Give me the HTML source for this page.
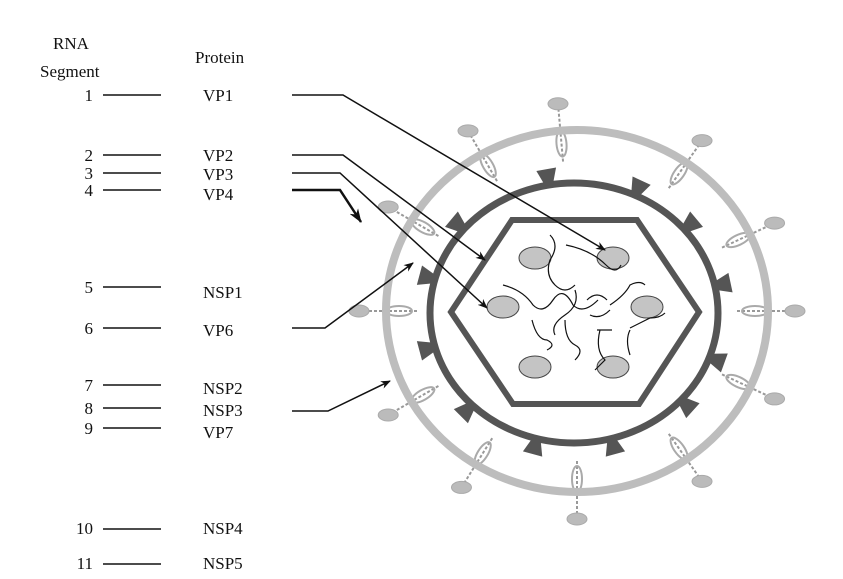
<!DOCTYPE html>
<html><head><style>
body{margin:0;background:#fff;}
svg{display:block;font-family:"Liberation Serif",serif;}
</style></head><body>
<svg id="s" width="843" height="579" viewBox="0 0 843 579" xmlns="http://www.w3.org/2000/svg">
<defs>
<marker id="a" markerWidth="10" markerHeight="8" refX="9" refY="4" orient="auto" markerUnits="userSpaceOnUse"><path d="M0,0 L10,4 L0,8 L3,4Z" fill="#111"/></marker>
<marker id="b" markerWidth="14" markerHeight="10" refX="13" refY="5" orient="auto" markerUnits="userSpaceOnUse"><path d="M0,0 L14,5 L0,10 L4,5Z" fill="#111"/></marker>
</defs>
<g font-size="17" fill="#111">
<text x="53" y="49">RNA</text>
<text x="40" y="77">Segment</text>
<text x="195" y="63">Protein</text>
<g text-anchor="end">
<text x="93" y="101">1</text><text x="93" y="161">2</text><text x="93" y="179">3</text><text x="93" y="196">4</text>
<text x="93" y="293">5</text><text x="93" y="334">6</text><text x="93" y="391">7</text><text x="93" y="414">8</text>
<text x="93" y="434">9</text><text x="93" y="534">10</text><text x="93" y="569">11</text>
</g>
<text x="203" y="101">VP1</text><text x="203" y="161">VP2</text><text x="203" y="180">VP3</text><text x="203" y="200">VP4</text>
<text x="203" y="298">NSP1</text><text x="203" y="336">VP6</text><text x="203" y="394">NSP2</text><text x="203" y="416">NSP3</text>
<text x="203" y="438">VP7</text><text x="203" y="534">NSP4</text><text x="203" y="569">NSP5</text>
</g>
<g stroke="#111" stroke-width="1.5">
<line x1="103" y1="95" x2="161" y2="95"/><line x1="103" y1="155" x2="161" y2="155"/><line x1="103" y1="173" x2="161" y2="173"/>
<line x1="103" y1="190" x2="161" y2="190"/><line x1="103" y1="287" x2="161" y2="287"/><line x1="103" y1="328" x2="161" y2="328"/>
<line x1="103" y1="385" x2="161" y2="385"/><line x1="103" y1="408" x2="161" y2="408"/><line x1="103" y1="428" x2="161" y2="428"/>
<line x1="103" y1="529" x2="161" y2="529"/><line x1="103" y1="564" x2="161" y2="564"/>
</g>
<g id="spk"></g>
<ellipse cx="577" cy="311" rx="191" ry="181" fill="none" stroke="#bdbdbd" stroke-width="8"/>
<ellipse cx="574" cy="313" rx="144" ry="130" fill="none" stroke="#555" stroke-width="7"/>
<g id="knb" fill="#555"></g>
<polygon points="512,220 637,220 699,312 639,404 513,404 451,312" fill="none" stroke="#555" stroke-width="6"/>
<g fill="#c4c4c4" stroke="#444" stroke-width="1">
<ellipse cx="535" cy="258" rx="16" ry="11"/><ellipse cx="613" cy="258" rx="16" ry="11"/>
<ellipse cx="503" cy="307" rx="16" ry="11"/><ellipse cx="647" cy="307" rx="16" ry="11"/>
<ellipse cx="535" cy="367" rx="16" ry="11"/><ellipse cx="613" cy="367" rx="16" ry="11"/>
</g>
<g fill="none" stroke="#111" stroke-width="1.2">
<path d="M550,235 q10,10 0,25 q-5,15 5,25 q10,10 20,0"/>
<path d="M566,245 q25,5 40,20 q10,10 15,0"/>
<path d="M503,285 q20,5 30,20 q10,10 20,-5 q10,-15 20,5 q10,10 25,-5"/>
<path d="M575,290 q5,15 -10,25 q-15,10 -10,20"/>
<path d="M610,305 q15,-10 20,-20 q10,-5 15,0"/>
<path d="M532,320 q5,20 15,20 q10,5 0,10"/>
<path d="M565,320 q0,20 10,25 q10,5 0,15"/>
<path d="M597,330 l15,0 M600,330 q-5,20 5,30 l-10,10"/>
<path d="M630,328 l20,-10 q10,0 15,-5 M630,330 q-5,10 0,25"/>
<path d="M587,300 q10,-10 20,0 M590,315 q10,5 20,-5"/>
</g>
<g fill="none" stroke="#111" stroke-width="1.5">
<path d="M292,95 L343,95 L605,250" marker-end="url(#a)"/>
<path d="M292,155 L343,155 L485,260" marker-end="url(#a)"/>
<path d="M292,173 L340,173 L487,308" marker-end="url(#a)"/>
<path d="M292,190 L340,190 L361,222" stroke-width="2.5" marker-end="url(#b)"/>
<path d="M292,328 L325,328 L413,263" marker-end="url(#a)"/>
<path d="M292,411 L328,411 L390,381" marker-end="url(#a)"/>
</g>
</svg>
<script>
var ns="http://www.w3.org/2000/svg",S=document.getElementById("spk"),K=document.getElementById("knb");
function el(p,t,a){var e=document.createElementNS(ns,t);for(var k in a)e.setAttribute(k,a[k]);p.appendChild(e);return e;}
[-95,-55,-25,0,25,55,90,122,150,180,-150,-120].forEach(function(d){var r=d*Math.PI/180,c=Math.cos(r),s=Math.sin(r);
var x1=577+160*c,y1=311+150*s,x2=577+218*c,y2=311+208*s;
el(S,"line",{x1:x1,y1:y1,x2:x2,y2:y2,stroke:"#999","stroke-width":2,"stroke-dasharray":"3,2"});
var mx=577+178*c,my=311+168*s;
el(S,"ellipse",{cx:mx,cy:my,rx:13,ry:5,fill:"none",stroke:"#aaa","stroke-width":2,transform:"rotate("+d+" "+mx+" "+my+")"});
el(S,"ellipse",{cx:x2,cy:y2,rx:10,ry:6,fill:"#bbb",stroke:"#aaa"});});
[-100,-65,-40,-12,20,42,75,105,135,165,-165,-140].forEach(function(d){var r=d*Math.PI/180,c=Math.cos(r),s=Math.sin(r);
var bx=574+144*c,by=313+130*s,tx=574+160*c,ty=313+146*s,px=-s,py=c;
el(K,"polygon",{points:(bx-4*px)+","+(by-4*py)+" "+(bx+4*px)+","+(by+4*py)+" "+(tx+10*px)+","+(ty+10*py)+" "+(tx-10*px)+","+(ty-10*py)});});
</script>
</body></html>
